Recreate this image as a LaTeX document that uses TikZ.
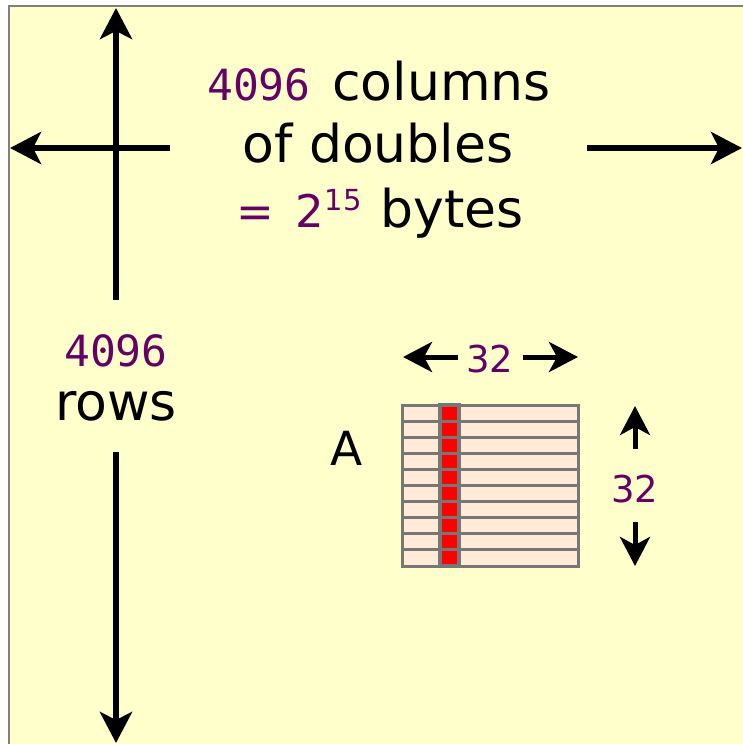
\documentclass[tikz,border=0pt]{standalone}
\usepackage{fontspec}
\setmainfont{DejaVu Sans}
\newfontfamily\monofont{DejaVu Sans Mono}
\usetikzlibrary{arrows.meta}
\definecolor{bgyellow}{HTML}{FFFFCC}
\definecolor{bordergray}{HTML}{808080}
\definecolor{numpurple}{HTML}{660066}
\definecolor{cellpeach}{HTML}{FFEBD7}
\definecolor{gridgray}{HTML}{777777}
\newcommand{\mnum}[1]{{\fontsize{43}{50}\monofont\color{numpurple}#1}}
\tikzset{
  bigarrow/.style={line width=6.3pt, -{Stealth[length=31pt,width=32pt,inset=8pt]}},
  smallarrow/.style={line width=5pt, -{Stealth[length=29pt,width=30pt,inset=8pt]}},
  bigtext/.style={font=\fontsize{52}{60}\selectfont, inner sep=0pt, anchor=base},
  smalltext/.style={font=\fontsize{37}{44}\selectfont, inner sep=0pt, text=numpurple},
  cell/.style={fill=cellpeach, draw=gridgray, line width=3pt},
  redcell/.style={fill=red, draw=gridgray, line width=3pt},
}
\begin{document}
\begin{tikzpicture}[x=1pt,y=-1pt]
\useasboundingbox (0,0) rectangle (742,744);
\fill[white] (0,0) rectangle (742,744);
\fill[bgyellow] (9,6) rectangle (745,747);
\draw[bordergray, line width=2.5pt] (9,747) -- (9,6) -- (745,6);

% top text
\node[bigtext] (l1) at (379,100) {\mnum{4096}\hspace{5pt} columns};
\node[bigtext] (l2) at (378,162) {of doubles};
\node[bigtext] (l3) at (380,227) {{\fontsize{45}{52}\selectfont\color{numpurple}=\hspace{21pt}2\hspace{1pt}\raisebox{17pt}{\fontsize{29}{32}\selectfont 15}}\hspace{2pt} bytes};

% rows text
\node[bigtext] (r1) at (116,366) {\mnum{4096}};
\node[bigtext] (r2) at (116,420) {rows};

% big arrows
\coordinate (vtopstart) at (116,300);
\coordinate (vtopend) at (116,8);
\coordinate (vbotstart) at (116,452);
\coordinate (vbotend) at (116,743);
\coordinate (hleftstart) at (170,148);
\coordinate (hleftend) at (10,148);
\coordinate (hrightstart) at (587,148);
\coordinate (hrightend) at (742,148);
\draw[bigarrow] (vtopstart) -- (vtopend);
\draw[bigarrow] (vbotstart) -- (vbotend);
\draw[bigarrow] (hleftstart) -- (hleftend);
\draw[bigarrow] (hrightstart) -- (hrightend);

% grid
\foreach \i in {0,...,9} {
  \draw[cell] (402,{405+16.1*\i}) rectangle (578,{405+16.1*(\i+1)});
}
\foreach \i in {0,...,9} {
  \draw[redcell] (440,{405+16.1*\i}) rectangle (459,{405+16.1*(\i+1)});
}
\draw[gridgray, line width=3.5pt] (440,405) rectangle (459,566);

\node[font=\fontsize{47}{54}\selectfont, inner sep=0pt] (A) at (347,448) {A};

% 32 horizontal
\node[smalltext] (h32) at (490,359) {32};
\coordinate (hl32s) at (458,357);
\coordinate (hl32) at (403,357);
\coordinate (hr32s) at (523,357);
\coordinate (hr32) at (578,357);
\draw[smallarrow] (hl32s) -- (hl32);
\draw[smallarrow] (hr32s) -- (hr32);

% 32 vertical
\node[smalltext] (v32) at (635,489) {32};
\coordinate (vu32) at (635,406);
\coordinate (vd32) at (635,566);
\coordinate (vu32s) at (635,449);
\coordinate (vd32s) at (635,522);
\draw[smallarrow] (vu32s) -- (vu32);
\draw[smallarrow] (vd32s) -- (vd32);
\end{tikzpicture}
\end{document}
